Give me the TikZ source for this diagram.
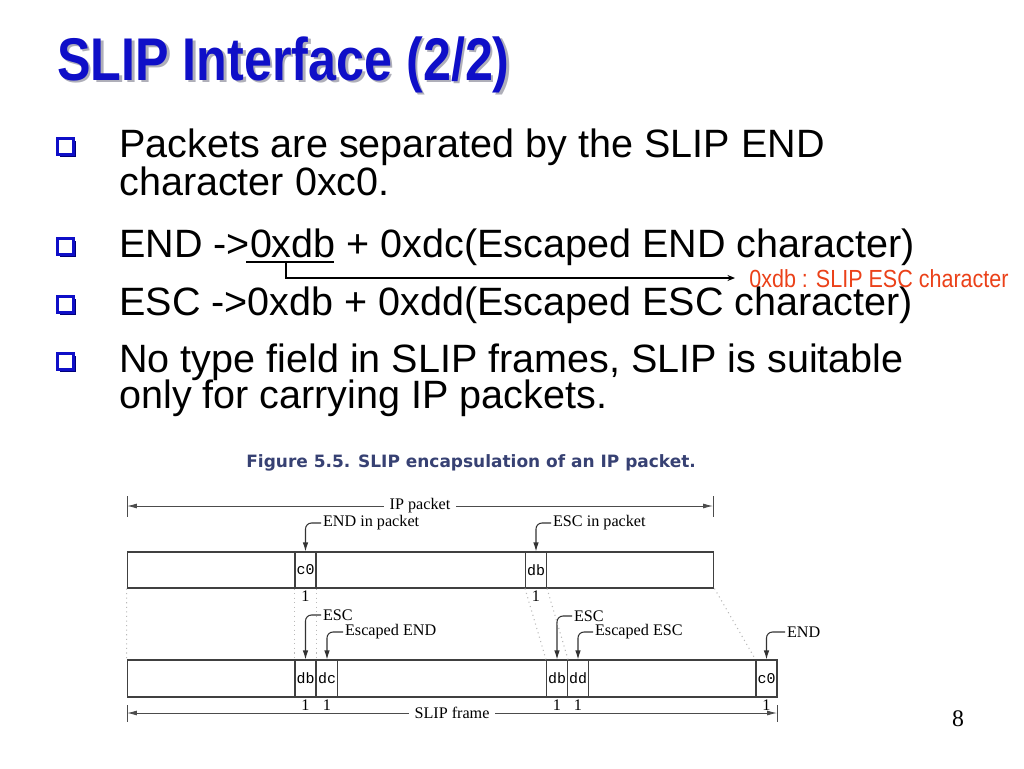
\documentclass[tikz,border=0pt]{standalone}
\usepackage{fontspec}
\usepackage{graphicx}
\usetikzlibrary{arrows.meta}
\newfontfamily\arialfont{Liberation Sans}
\newfontfamily\timesfont{Liberation Serif}
\newfontfamily\courfont{Liberation Mono}
\newfontfamily\verdfont{DejaVu Sans}
\definecolor{titleblue}{RGB}{15,15,200}
\definecolor{shadowgray}{RGB}{175,175,185}
\definecolor{bulletnavy}{RGB}{0,0,120}
\definecolor{capblue}{RGB}{55,65,115}
\definecolor{notered}{RGB}{235,65,25}
\definecolor{dotgray}{RGB}{185,185,185}
\def\bodyfont{\arialfont\fontsize{22.5}{27}\selectfont}
\def\figfont{\timesfont\fontsize{9.2}{11}\selectfont}
\def\tall#1{\scalebox{1}[1.2]{#1}}
\tikzset{
  txtline/.style={anchor=base west, inner sep=0pt, font=\bodyfont},
  cell/.style={draw=black!75, line width=0.6pt, minimum width=0.42cm, minimum height=0.72cm, inner sep=0pt, font=\courfont\fontsize{8.5}{9}\selectfont},
  framebox/.style={draw=black!75, line width=0.6pt, minimum height=0.72cm, inner sep=0pt},
  flabel/.style={inner sep=1pt, font=\figfont},
  count/.style={inner sep=0pt, font=\figfont},
  pointer/.style={draw=black!80, line width=0.6pt, rounded corners=0.12cm, -{Latex[length=1.8mm,width=1.1mm]}},
  dimline/.style={draw=black!70, line width=0.5pt, {Latex[length=2mm,width=1mm]}-{Latex[length=2mm,width=1mm]}},
  guide/.style={draw=dotgray, dotted, line width=0.6pt}
}

\begin{document}
\begin{tikzpicture}[x=0.02cm, y=-0.02cm]
%%%%% START %%%%%
\fill[white] (0,0) rectangle (1024,768);
\useasboundingbox (0,0) rectangle (1024,768);

% title with shadow
\node[anchor=base west, inner sep=0pt, text=shadowgray, font=\arialfont\bfseries\fontsize{28.6}{32}\selectfont] (titleshadow) at (59.5,82.5) {\tall{SLIP Interface (2/2)}};
\node[anchor=base west, inner sep=0pt, text=titleblue, font=\arialfont\bfseries\fontsize{28.6}{32}\selectfont] (title) at (57,80) {\tall{SLIP Interface (2/2)}};

% bullets
\foreach \y in {157,257,315,372}{
  \fill[bulletnavy] (59.5,\y-16.5) rectangle (76,\y);
  \draw[titleblue, fill=white, line width=1.6pt] (57.5,\y-18.5) rectangle (73.5,\y-2.5);
}
\node[txtline] (b1a) at (119,157) {Packets are separated by the SLIP END};
\node[txtline] (b1b) at (119,195) {character 0xc0.};
\node[txtline] (b2) at (119,257) {END ->0xdb + 0xdc(Escaped END character)};
\node[txtline] (b3) at (119,315) {ESC ->0xdb + 0xdd(Escaped ESC character)};
\node[txtline] (b4a) at (119,372) {No type field in SLIP frames, SLIP is suitable};
\node[txtline] (b4b) at (119,408) {only for carrying IP packets.};

% note on 0xdb
\draw[line width=0.8pt] (246,262) -- (334,262);
\coordinate (undl) at (286,262);
\coordinate (notetip) at (735,278);
\node[anchor=base west, inner sep=0pt, text=notered, font=\arialfont\fontsize{12.25}{14}\selectfont] (note) at (749,287) {\scalebox{1}[1.15]{0xdb : SLIP ESC character}};
\draw[line width=0.6pt, -{Stealth[length=1.5mm,width=1.2mm]}] (undl) |- (notetip);

% figure caption
\node[anchor=base west, inner sep=0pt, text=capblue, font=\verdfont\bfseries\fontsize{9.66}{11}\selectfont] (caption) at (246,467) {Figure 5.5. SLIP encapsulation of an IP packet.};

% IP packet
\draw[black!70, line width=0.5pt] (127,496) -- (127,517);
\draw[black!70, line width=0.5pt] (713,496) -- (713,517);
\coordinate (ipL) at (127,506);
\coordinate (ipR) at (713,506);
\draw[dimline] (ipL) -- (ipR) node[midway, fill=white, flabel, inner xsep=3pt, inner ysep=0pt] (iplab) {IP packet};

\node[framebox, minimum width=11.74cm] (ippkt) at (420.5,570) {};
\node[cell] (endin) at (305.5,570) {c0};
\node[cell] (escin) at (536,570) {db};
\node[count] (n1) at (305.5,596) {1};
\node[count] (n2) at (536,596) {1};

\node[flabel, anchor=west] (lendin) at (321,523) {END in packet};
\node[flabel, anchor=west] (lescin) at (551,523) {ESC in packet};
\draw[pointer] (lendin.west) -| (endin.north);
\draw[pointer] (lescin.west) -| (escin.north);

% SLIP frame
\node[framebox, minimum width=13.0cm, minimum height=0.74cm] (slipfrm) at (452,678.5) {};
\node[cell, minimum height=0.74cm] (esc1) at (305.5,678.5) {db};
\node[cell, minimum height=0.74cm] (xend) at (327,678.5) {dc};
\node[cell, minimum height=0.74cm] (esc2) at (557,678.5) {db};
\node[cell, minimum height=0.74cm] (xesc) at (578,678.5) {dd};
\node[cell, minimum height=0.74cm] (fend) at (766.5,678.5) {c0};
\foreach \x [count=\i] in {305.5,327,557,578,766.5}
  \node[count] (m\i) at (\x,705) {1};

\node[flabel, anchor=west] (lesc1) at (321,615) {ESC};
\node[flabel, anchor=west] (lxend) at (343,632) {Escaped END};
\node[flabel, anchor=west] (lesc2) at (572,616) {ESC};
\node[flabel, anchor=west] (lxesc) at (593,632) {Escaped ESC};
\node[flabel, anchor=west] (lfend) at (785,632) {END};
\draw[pointer] (lesc1.west) -| (esc1.north);
\draw[pointer] (lxend.west) -| (xend.north);
\draw[pointer] (lesc2.west) -| (esc2.north);
\draw[pointer] (lxesc.west) -| (xesc.north);
\draw[pointer] (lfend.west) -| (fend.north);

\draw[black!70, line width=0.5pt] (127,705) -- (127,722);
\draw[black!70, line width=0.5pt] (777,705) -- (777,722);
\coordinate (sfL) at (127,713);
\coordinate (sfR) at (777,713);
\draw[dimline] (sfL) -- (sfR) node[midway, fill=white, flabel, inner xsep=3pt] (sflab) {SLIP frame};

% dotted guides
\draw[guide] (ippkt.south west) -- (slipfrm.north west);
\draw[guide] (endin.south west) -- (esc1.north west);
\draw[guide] (endin.south east) -- (esc1.north east);
\draw[guide] (escin.south west) -- (esc2.north west);
\draw[guide] (escin.south east) -- (esc2.north east);
\draw[guide] (ippkt.south east) -- (fend.north west);

% page number
\node[anchor=base, inner sep=0pt, font=\timesfont\fontsize{13.5}{15}\selectfont] (pnum) at (958,726) {8};
%%%%% END %%%%%
\end{tikzpicture}
\end{document}
